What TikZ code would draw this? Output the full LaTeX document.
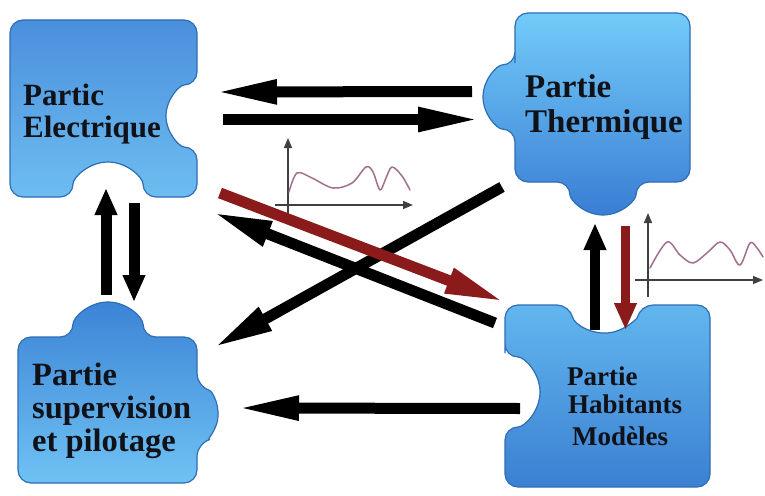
\documentclass[tikz,border=0pt]{standalone}
\usepackage{fontspec}
\setmainfont{Liberation Serif}
\usetikzlibrary{arrows.meta}
\definecolor{edge}{HTML}{2F6DB5}
\definecolor{elTop}{HTML}{4A8FDC}
\definecolor{elBot}{HTML}{6DBDF0}
\definecolor{thTop}{HTML}{72CBF9}
\definecolor{thBot}{HTML}{3A7ED4}
\definecolor{suTop}{HTML}{3C84D6}
\definecolor{suBot}{HTML}{6FC2F3}
\definecolor{haTop}{HTML}{62B6EE}
\definecolor{haBot}{HTML}{3B80D2}
\definecolor{darkred}{HTML}{8B1A1A}
\definecolor{wavec}{HTML}{A0708C}
\definecolor{txt}{HTML}{111118}
\begin{document}
\begin{tikzpicture}[x=1pt,y=-1pt,
  piece/.style={draw=edge, line width=1.2pt, rounded corners=13pt},
  fat/.style={line width=11pt, draw=black},
  hh/.style={-{Triangle[length=64pt,width=22pt]}},
  vv/.style={-{Triangle[length=27pt,width=21pt]}},
  dd/.style={-{Triangle[length=60pt,width=24pt]}},
  lbl/.style={anchor=base west, inner sep=0pt, text=txt},
  axis/.style={line width=1.3pt, draw=black!75, -{Triangle[length=10pt,width=8pt]}},
  wave/.style={line width=1.5pt, draw=wavec, line cap=round, line join=round}
]
\useasboundingbox (0,0) rectangle (765,495);
\fill[white] (0,0) rectangle (765,495);

% puzzle pieces
\path[piece, top color=elTop, bottom color=elBot]
  (10,100) -- (10,20) -- (197,20) -- (197,85)
  arc[start angle=-90,end angle=-270,radius=31] -- (197,197) -- (143,197)
  arc[start angle=0,end angle=-180,radius=35] -- (10,197) -- cycle;
\path[piece, top color=thTop, bottom color=thBot]
  (515,50) -- (515,13) -- (690,13) -- (690,182) -- (636,182)
  arc[start angle=0,end angle=180,radius=33] -- (515,182) -- (515,129)
  arc[start angle=90,end angle=270,radius=32] -- cycle;
\path[piece, top color=suTop, bottom color=suBot]
  (18,400) -- (18,337) -- (73,337)
  arc[start angle=180,end angle=360,radius=35] -- (197,337) -- (197,386.4)
  arc[start angle=-72.5,end angle=72.5,radius=30] -- (197,483) -- (18,483) -- cycle;
\path[piece, top color=haTop, bottom color=haBot]
  (505,340) -- (505,305) -- (569.9,305)
  arc[start angle=167.2,end angle=12.8,radius=36] -- (710,305) -- (710,487)
  -- (505,487) -- (505,427)
  arc[start angle=90,end angle=-90,radius=35] -- cycle;

% labels
\node[lbl, font=\bfseries\fontsize{31}{33}\selectfont] (e1) at (23,105) {Partic};
\node[lbl, font=\bfseries\fontsize{31}{33}\selectfont] (e2) at (23,137) {Electrique};
\node[lbl, font=\bfseries\fontsize{33}{35}\selectfont] (t1) at (525,97) {Partie};
\node[lbl, font=\bfseries\fontsize{33}{35}\selectfont] (t2) at (525,132) {Thermique};
\node[lbl, font=\bfseries\fontsize{32.5}{35}\selectfont] (s1) at (32,385) {Partie};
\node[lbl, font=\bfseries\fontsize{32.5}{35}\selectfont] (s2) at (32,418) {supervision};
\node[lbl, font=\bfseries\fontsize{32.5}{35}\selectfont] (s3) at (32,451) {et pilotage};
\node[lbl, font=\bfseries\fontsize{27}{29}\selectfont] (h1) at (567,385) {Partie};
\node[lbl, font=\bfseries\fontsize{27}{29}\selectfont] (h2) at (568,413) {Habitants};
\node[lbl, font=\bfseries\fontsize{27}{29}\selectfont] (h3) at (572,445) {Modèles};

% arrow end points
\coordinate (a1s) at (472,91.5);  \coordinate (a1e) at (213,92);
\coordinate (a2s) at (223,119.5); \coordinate (a2e) at (482,119.5);
\coordinate (rds) at (220,193);   \coordinate (rde) at (505,302);
\coordinate (hes) at (495,323);   \coordinate (hee) at (212,212);
\coordinate (tss) at (502,187);   \coordinate (tse) at (213,348);
\coordinate (lus) at (106,295);   \coordinate (lue) at (106,188);
\coordinate (lds) at (134,203);   \coordinate (lde) at (134,302);
\coordinate (rus) at (595,330);   \coordinate (rue) at (595,223);
\coordinate (rrs) at (625.5,226); \coordinate (rre) at (625.5,330);
\coordinate (bos) at (520,408.5); \coordinate (boe) at (235,408);

% graph 1
\coordinate (g1a) at (288,220); \coordinate (g1b) at (288,138);
\coordinate (g1c) at (275,205); \coordinate (g1d) at (413,205);
\draw[axis] (g1a) -- (g1b);
\draw[axis] (g1c) -- (g1d);
\draw[wave] plot[smooth, tension=0.55] coordinates {(289,192) (297,173) (312,178) (333,188) (352,183) (366,167) (373,172) (380,190) (386,178) (392,167) (402,176) (410,190)};

% graph 2
\coordinate (g2a) at (648,297); \coordinate (g2b) at (648,213);
\coordinate (g2c) at (635,280); \coordinate (g2d) at (763,280);
\draw[axis] (g2a) -- (g2b);
\draw[axis] (g2c) -- (g2d);
\draw[wave] plot[smooth, tension=0.55] coordinates {(650,268) (667,242) (680,255) (693,263) (708,252) (720,242) (730,250) (740,265) (750,243) (757,248) (763,257)};

% arrows
\draw[fat,hh] (a1s) -- (a1e);
\draw[fat,hh] (a2s) -- (a2e);
\draw[fat,dd] (hes) -- (hee);
\draw[fat,dd] (tss) -- (tse);
\draw[fat,dd,draw=darkred,fill=darkred] (rds) -- (rde);
\draw[fat,vv] (lus) -- (lue);
\draw[fat,vv] (lds) -- (lde);
\draw[line width=9.5pt,draw=black,vv] (rus) -- (rue);
\draw[line width=9.5pt,draw=darkred,vv] (rrs) -- (rre);
\draw[fat,hh] (bos) -- (boe);
\end{tikzpicture}
\end{document}
